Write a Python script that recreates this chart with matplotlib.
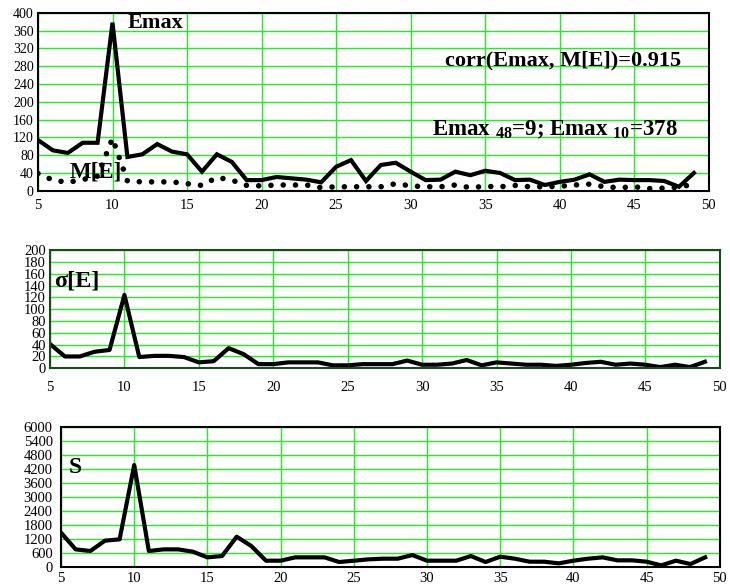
import matplotlib
matplotlib.use("Agg")
import matplotlib.pyplot as plt

plt.rcParams['font.family'] = ['Liberation Serif', 'DejaVu Serif']
plt.rcParams['mathtext.fontset'] = 'custom'
plt.rcParams['mathtext.rm'] = 'Liberation Serif:bold'
plt.rcParams['mathtext.it'] = 'Liberation Serif:bold'
plt.rcParams['mathtext.bf'] = 'Liberation Serif:bold'

n = list(range(5, 50))

emax = [114, 91, 85, 108, 108, 378, 76, 82, 105, 88, 82, 43, 82, 65, 24,
        24, 31, 28, 25, 19, 54, 69, 22, 58, 63, 43, 24, 25, 43, 35,
        45, 40, 24, 25, 13, 20, 25, 37, 20, 25, 24, 24, 22, 9, 40]
mean_e = [39, 24, 19, 25, 33, 118, 22, 20, 20, 20, 16, 12, 30, 24, 12,
          11, 13, 13, 13, 7, 9, 9, 9, 9, 16, 11, 9, 9, 13, 7,
          10, 9, 12, 9, 9, 10, 13, 15, 9, 7, 9, 5, 6, 8, 15]
sigma_e = [41, 20, 20, 28, 31, 124, 19, 21, 21, 19, 10, 12, 34, 24, 7,
           7, 10, 10, 10, 5, 5, 7, 7, 7, 13, 6, 6, 8, 14, 5,
           10, 8, 6, 6, 4, 6, 9, 11, 6, 8, 6, 2, 6, 2, 11]
s_vals = [1464, 746, 674, 1120, 1177, 4376, 674, 746, 746, 646, 402, 459, 1291, 890, 258,
          258, 402, 402, 402, 201, 258, 316, 344, 344, 502, 258, 258, 258, 459, 201,
          430, 344, 215, 215, 143, 258, 344, 402, 273, 273, 215, 57, 258, 115, 402]

xticks = [5, 10, 15, 20, 25, 30, 35, 40, 45, 50]
green = '#22ee22'

fig = plt.figure(figsize=(7.3, 5.87), dpi=100)

def setup(ax, yticks, frame, ysize, xpad):
    ax.set_xlim(5, 50)
    ax.set_ylim(yticks[0], yticks[-1])
    ax.set_xticks(xticks)
    ax.set_yticks(yticks)
    ax.grid(True, color=green, linewidth=1.0)
    ax.set_axisbelow(True)
    ax.tick_params(length=0, labelsize=10.5)
    ax.tick_params(axis='x', pad=xpad)
    ax.tick_params(axis='y', labelsize=ysize, pad=3)
    for sp in ax.spines.values():
        sp.set_color(frame)
        sp.set_linewidth(1.5)

# top panel
ax1 = fig.add_axes([0.052, 0.675, 0.919, 0.303])
setup(ax1, list(range(0, 401, 40)), 'black', 10, 6)
ax1.plot(n, emax, color='black', lw=3, solid_joinstyle='miter')
ax1.plot(n, mean_e, color='black', lw=4, linestyle=(0, (0.01, 2.2)),
         dash_capstyle='round')
ax1.text(11.0, 378, "Emax", fontsize=16, fontweight='bold', va='center')
ax1.text(7.1, 42, "M[E]", fontsize=16.5, fontweight='bold', va='center')
ax1.text(32.3, 292, "corr(Emax, M[E])=0.915", fontsize=16, fontweight='bold', va='center')
ax1.text(31.4, 136, r"Emax $_{48}$=9; Emax $_{10}$=378", fontsize=16.5,
         fontweight='bold', va='center')

# middle panel
ax2 = fig.add_axes([0.0685, 0.3726, 0.9175, 0.2014])
setup(ax2, list(range(0, 201, 20)), '#1d4a1d', 10.5, 9)
ax2.plot(n, sigma_e, color='black', lw=3)
ax2.text(5.3, 148, "σ[E]", fontsize=17.5, fontweight='bold', va='center')

# bottom panel
ax3 = fig.add_axes([0.0836, 0.0346, 0.9024, 0.2374])
setup(ax3, list(range(0, 6001, 600)), 'black', 10.5, 4)
ax3.tick_params(axis='y', pad=6)
ax3.plot(n, s_vals, color='black', lw=3)
ax3.text(5.5, 4290, "S", fontsize=17, fontweight='bold', va='center')

fig.savefig("out.png", dpi=100)
